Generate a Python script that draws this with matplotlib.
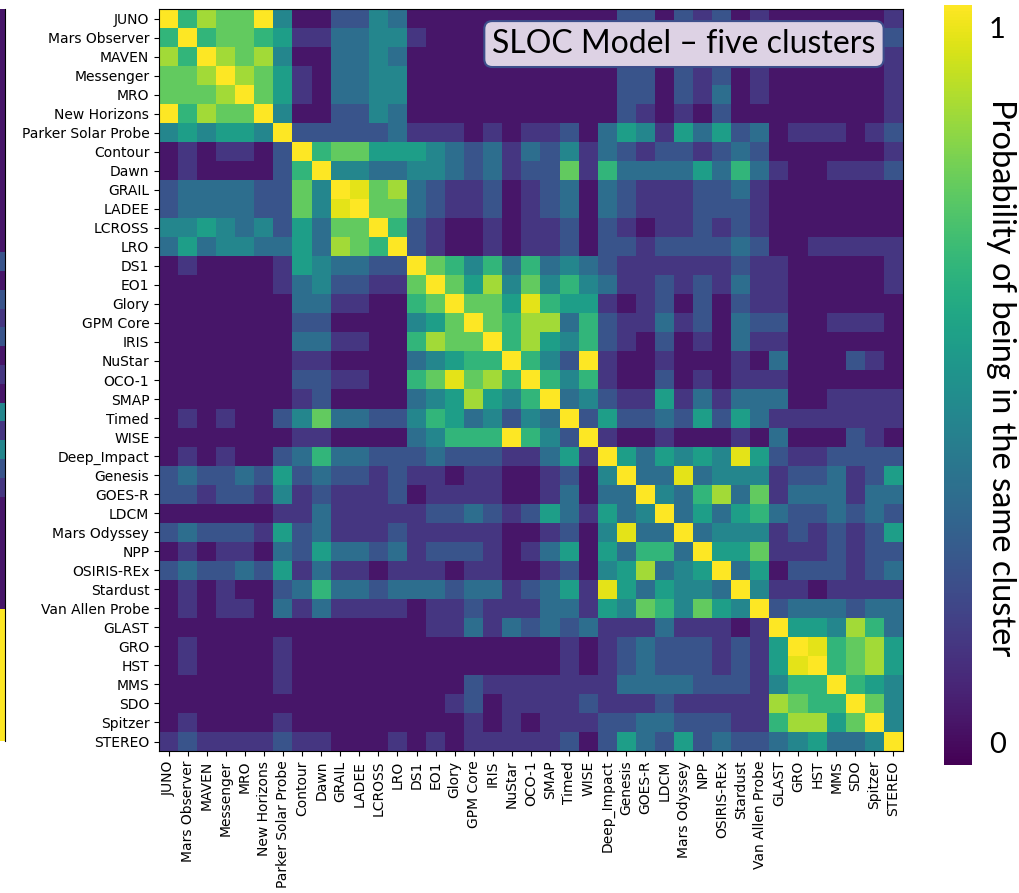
import numpy as np
import matplotlib
matplotlib.use("Agg")
import matplotlib.pyplot as plt

missions = ["JUNO", "Mars Observer", "MAVEN", "Messenger", "MRO", "New Horizons",
            "Parker Solar Probe", "Contour", "Dawn", "GRAIL", "LADEE", "LCROSS", "LRO",
            "DS1", "EO1", "Glory", "GPM Core", "IRIS", "NuStar", "OCO-1", "SMAP",
            "Timed", "WISE", "Deep_Impact", "Genesis", "GOES-R", "LDCM",
            "Mars Odyssey", "NPP", "OSIRIS-REx", "Stardust", "Van Allen Probe",
            "GLAST", "GRO", "HST", "MMS", "SDO", "Spitzer", "STEREO"]

# co-clustering probability, one string per row
# digit d -> 0.06 + 0.1*d, X -> 1.0 ; spaces only group the five clusters
prob_rows = [
    "X6877X4 002243 0000000000 022021201 0000001",
    "6X67765 113344 1000000010 132031311 0110012",
    "86X8784 003343 0000000000 021020200 0000001",
    "778X875 103344 0000000000 022021201 0000001",
    "7778X75 103344 0000000000 022021301 0000001",
    "X6877X4 002243 0000000000 021010200 0000001",
    "454554X 222223 1110101120 354153523 0111012",
    "0101102 X67755 5432313241 321221232 0000001",
    "0100002 6X4433 4432312271 633335363 1001112",
    "2333322 74X978 3211201230 321112231 0000000",
    "2333322 749X77 3211201230 321112221 0000000",
    "4454342 5377X6 2100101120 210112121 0000000",
    "3534433 53876X 2100101120 221222232 0011111",
    "0100001 543322 X764636343 211111121 1000001",
    "0000001 342211 7X75847464 311212131 1000001",
    "0000000 331100 67X7759655 101202021 1000000",
    "0000000 220000 457X768836 211312032 2001110",
    "0000000 331100 6877X68546 210201031 1000000",
    "0000000 110000 34566X642X 100100010 3000210",
    "0000000 221100 679786X646 100201011 1000000",
    "0000000 120000 3458546X34 211513133 3001111",
    "0101002 473322 46534243X2 522325253 1111111",
    "0000000 110000 34666X642X 100100010 3000210",
    "0101002 363322 2322211351 X53545495 2112222",
    "2322325 232212 1101100120 4X3393444 1223125",
    "2212214 121112 0111100130 33X436837 1333133",
    "0000001 131111 1223212531 534X35356 3223232",
    "2322215 231112 1111100120 4933X3444 1212125",
    "0101103 253323 1222101350 53663X557 1112122",
    "2322325 131101 1101100120 458345X35 0222123",
    "0101002 363323 3323312351 9535443X4 1101111",
    "0101103 131111 0112111331 54764754X 2333233",
    "0000000 000000 0113132323 111311101 X554863",
    "0100001 000000 0000000010 123222121 5X96785",
    "0100001 000000 0000000010 123222121 59X6785",
    "0000001 000000 0002111111 133332221 466X654",
    "0000000 000000 0012011112 111211111 8766X74",
    "0100001 000000 0001010111 223322211 68857X4",
    "1211112 110001 0101111120 253252322 345334X",
]

# sliver of the neighbouring panel visible at the left edge
side_strip = "0000000000000 2021201041421000000 XXXXXXX"

title = "SLOC Model \u2013 five clusters"
cbar_label = "Probability of being in the same cluster"


def decode(row):
    row = row.replace(" ", "")
    return [1.0 if c == "X" else 0.06 + 0.1 * int(c) for c in row]


prob = np.array([decode(r) for r in prob_rows])
strip = np.array(decode(side_strip)).reshape(-1, 1)
assert prob.shape == (len(missions), len(missions))

fig = plt.figure(figsize=(10.2, 8.93), dpi=100)

ax = fig.add_axes([0.1559, 0.159, 0.7294, 0.8309])
im = ax.imshow(prob, cmap="viridis", vmin=0, vmax=1, aspect="auto",
               interpolation="nearest")
ax.set_xticks(range(len(missions)))
ax.set_yticks(range(len(missions)))
ax.set_xticklabels(missions, rotation=90, fontsize=10)
ax.set_yticklabels(missions, fontsize=10)

ax.text(0.7056, 0.9528, title, transform=ax.transAxes, ha="center", va="center",
        fontsize=23, family="Lato",
        bbox=dict(boxstyle="round,pad=0.25", fc="#ddd2e4", ec="#3d4f8c", lw=1.5))

# colorbar on the right, only 0 and 1 marked
cax = fig.add_axes([0.9255, 0.1433, 0.0275, 0.851])
cbar = fig.colorbar(im, cax=cax)
cbar.outline.set_visible(False)
cbar.set_ticks([0.03, 0.97])
cbar.set_ticklabels(["0", "1"])
cax.tick_params(length=0, labelsize=21, pad=12)
for t in cax.get_yticklabels():
    t.set_fontfamily("Lato")
fig.text(0.981, 0.577, cbar_label, rotation=270, ha="center", va="center",
         fontsize=23.5, family="Lato")

# left-edge strip
sax = fig.add_axes([0.0, 0.17, 0.005, 0.82])
sax.imshow(strip, cmap="viridis", vmin=0, vmax=1, aspect="auto",
           interpolation="nearest")
sax.set_xticks([])
sax.set_yticks([])
for side in ["left", "top", "bottom"]:
    sax.spines[side].set_visible(False)

fig.savefig("out.png", dpi=100)
